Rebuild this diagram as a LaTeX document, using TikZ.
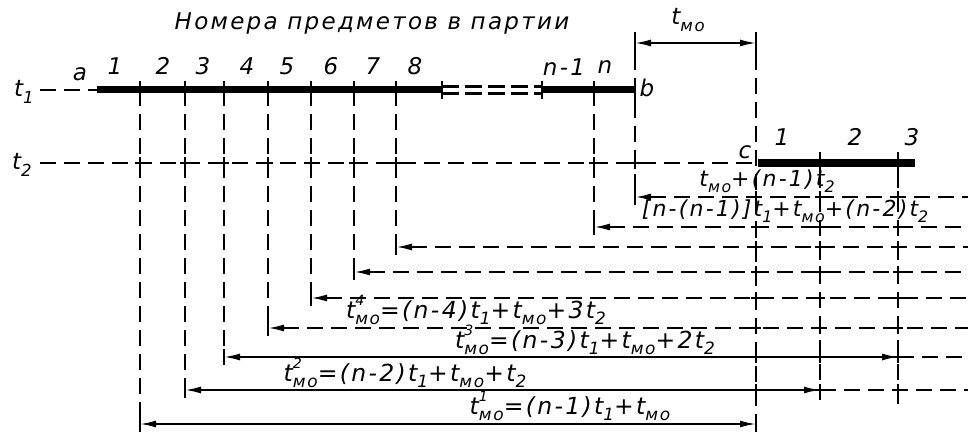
\documentclass[tikz,border=0pt]{standalone}
\usepackage{fontspec}
\usepackage{graphicx}
\setmainfont{DejaVu Sans}[LetterSpace=10]
\usetikzlibrary{arrows.meta}
\newcommand{\lo}[1]{\raisebox{-0.28em}{\scalebox{0.72}{#1}}}
\newcommand{\hi}[1]{\raisebox{0.55em}{\scalebox{0.6}{#1}}}
\newcommand{\tmo}{t\lo{мо}}
\newcommand{\tmos}[1]{t\rlap{\hi{#1}}\lo{мо}}
\newcommand{\ti}[1]{t\lo{#1}}
\begin{document}
\begin{tikzpicture}[x=1pt,y=-1pt,
  dl/.style={dash pattern=on 16pt off 8pt, line width=2pt},
  barline/.style={line width=7pt},
  tk/.style={line width=1.8pt},
  al/.style={line width=1.8pt},
  lbl/.style={font=\fontsize{22}{24}\selectfont\itshape, inner sep=0pt},
  lblb/.style={font=\fontsize{23.5}{25}\selectfont\itshape, inner sep=0pt},
  big/.style={font=\fontsize{23}{25}\selectfont\itshape, inner sep=0pt},
  ltip/.style={{Latex[length=16pt,width=7pt]}-},
  btip/.style={{Latex[length=16pt,width=7pt]}-{Latex[length=16pt,width=7pt]}},
]
\useasboundingbox (0,0) rectangle (968,435);

% title
\node[big] (title) at (372,24) {Номера предметов в партии};

% line t1
\node[big] (t1) at (24,92) {\ti{1}};
\coordinate (t1s) at (40,90);
\coordinate (a) at (97,90);
\coordinate (p8) at (442,90);
\coordinate (pn2) at (542,90);
\coordinate (b) at (635,90);
\draw[dl] (t1s) -- (a);
\draw[barline] (a) -- (p8);
\draw[barline] (pn2) -- (b);
\draw[line width=2.2pt, dash pattern=on 17pt off 6pt] ([yshift=3.5pt]p8) -- ([yshift=3.5pt]pn2);
\draw[line width=2.2pt, dash pattern=on 17pt off 6pt] ([yshift=-3.5pt]p8) -- ([yshift=-3.5pt]pn2);
\foreach \x in {140,185,224,268,311,354,396,442,542,594}
  \draw[tk] (\x,81) -- (\x,99);
\draw[tk] (635,78) -- (635,102);

\node[big] (la) at (80,74) {a};
\node[big] (lb) at (647,88) {b};
\node[big] (lc) at (745,152) {c};
\foreach \x/\t in {115/1,163/2,203/3,247/4,287/5,331/6,373/7,415/8}
  \node[big] at (\x,66) {\t};
\node[big] (lnm1) at (564,67) {n-1};
\node[big] (ln) at (605,67) {n};

% line t2
\node[big] (t2) at (22,165) {\ti{2}};
\coordinate (t2s) at (40,163);
\coordinate (c) at (758,163);
\coordinate (c3) at (915,163);
\draw[dl] (t2s) -- (c);
\draw[line width=8pt] (c) -- (c3);
\foreach \x in {820,898}
  \draw[tk] (\x,152) -- (\x,172);
\foreach \x/\t in {782/1,855/2,912/3}
  \node[big] at (\x,137) {\t};

% t_mo dimension
\coordinate (m1) at (635,43);
\coordinate (m2) at (756,43);
\draw[tk] (635,32) -- (635,54);
\draw[tk] (756,32) -- (756,54);
\draw[al,btip] (m1) -- (m2);
\node[big] (tmolabel) at (688,20) {\tmo};

% verticals from t1
\foreach \x/\y/\n in {140/424/1,185/390/2,224/357/3,268/328/4,311/298/5,354/272/6,396/247/7,594/227/n1}{
  \coordinate (u\n) at (\x,90);
  \coordinate (d\n) at (\x,\y);
  \draw[dl] (u\n) -- (d\n);
  \draw[tk] (\x,\y-8) -- (\x,\y+8);
}
\coordinate (dn) at (635,197);
\draw[dl] (635,54) -- (dn);
\draw[tk] (635,189) -- (635,205);

% right verticals
\coordinate (v1t) at (756,54);
\coordinate (v1b) at (756,432);
\coordinate (v2t) at (820,172);
\coordinate (v2b) at (820,400);
\coordinate (v3t) at (898,172);
\coordinate (v3b) at (898,405);
\draw[dl] (v1t) -- (v1b);
\draw[dl] (v2t) -- (v2b);
\draw[dl] (v3t) -- (v3b);

% dashed arrows
\foreach \n/\y in {n/197,n1/227,7/247,6/272,5/298,4/328}{
  \coordinate (e\n) at (968,\y);
  \draw[dl,ltip] (d\n) -- (e\n);
}
% solid arrows
\coordinate (r3) at (898,357);
\coordinate (r2) at (820,390);
\coordinate (r1) at (756,424);
\coordinate (e3) at (968,357);
\coordinate (e2) at (968,390);
\draw[al,btip] (d3) -- (r3);
\draw[dl] (r3) -- (e3);
\draw[al,btip] (d2) -- (r2);
\draw[dl] (r2) -- (e2);
\draw[al,btip] (d1) -- (r1);
\draw[tk] (756,416) -- (756,432);

% crossing ticks
\foreach \x in {756,820,898}
  \foreach \y in {197,227,247,272,298,328,357,390}
    \draw[tk] (\x-5,\y) -- (\x+5,\y) (\x,\y-6) -- (\x,\y+6);
\foreach \x in {140,185,224,268,311,354,396,594,635}
  \draw[tk] (\x-5,163) -- (\x+5,163) (\x,157) -- (\x,169);

% labels
\node[lbl] (L0) at (767,181) {\tmo+(n-1)\ti{2}};
\node[lbl] (L1) at (785,211) {[n-(n-1)]\ti{1}+\tmo+(n-2)\ti{2}};
\node[lblb] (L4) at (476,310) {\tmos{4}=(n-4)\ti{1}+\tmo+3\ti{2}};
\node[lblb] (L3) at (585,340) {\tmos{3}=(n-3)\ti{1}+\tmo+2\ti{2}};
\node[lblb] (L2) at (405,373) {\tmos{2}=(n-2)\ti{1}+\tmo+\ti{2}};
\node[lblb] (Lone) at (570,406) {\tmos{1}=(n-1)\ti{1}+\tmo};
\end{tikzpicture}
\end{document}
